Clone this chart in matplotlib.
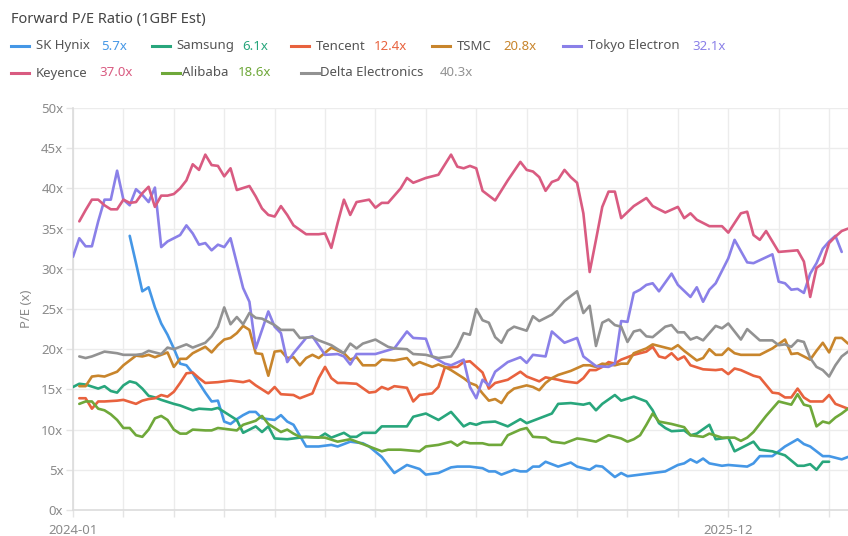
import matplotlib
matplotlib.use("Agg")
import matplotlib.pyplot as plt
import numpy as np

# ---------------- data (week index since 2024-01, forward P/E) ----------------
series_names = ["SK Hynix", "Samsung", "Tencent", "TSMC", "Tokyo Electron",
                "Keyence", "Alibaba", "Delta Electronics"]
legend_values = ["5.7x", "6.1x", "12.4x", "20.8x", "32.1x", "37.0x", "18.6x", "40.3x"]
colors = ["#4597e6", "#28a67c", "#e8623e", "#c8852c", "#8a80e8",
          "#d95b81", "#6fa83a", "#929292"]

sk_hynix_weeks = [9, 10, 11, 12, 13, 14, 15, 16, 17, 18, 19, 20, 21, 22, 23, 24, 25, 26, 27, 28, 29, 30,
                  32, 33, 34, 35, 37, 39, 41, 42, 44, 46, 47, 49, 51, 53, 55, 56, 58, 60, 61, 63, 65,
                  66, 67, 68, 70, 71, 72, 73, 74, 75, 77, 79, 80, 82, 83, 84, 86, 87, 88, 90, 94, 96,
                  97, 98, 99, 100, 101, 103, 104, 107, 108, 109, 111, 112, 113, 115, 116, 117, 119,
                  120, 121, 122, 123]
sk_hynix_pe = [34.1, 30.7, 27.2, 27.7, 25.2, 23.2, 21.8, 20.1, 18.2, 18.0, 17.0, 15.8, 14.6, 13.5, 13.6,
               11.0, 10.7, 11.3, 11.8, 12.2, 12.2, 11.4, 11.2, 11.8, 11.0, 10.6, 7.9, 7.9, 8.1, 7.9,
               8.5, 8.3, 7.9, 6.6, 4.6, 5.6, 5.1, 4.4, 4.6, 5.3, 5.4, 5.4, 5.2, 4.8, 4.8, 4.4, 5.0,
               4.8, 4.8, 5.4, 5.4, 6.0, 5.4, 5.9, 5.4, 5.0, 5.5, 5.4, 4.1, 4.6, 4.2, 4.4, 4.8, 5.6,
               5.8, 6.3, 5.9, 6.4, 5.8, 5.5, 5.6, 5.4, 5.8, 6.7, 6.7, 7.3, 7.9, 8.8, 8.2, 7.9, 6.7,
               6.7, 6.5, 6.3, 6.6]

samsung_weeks = [0, 1, 2, 4, 5, 6, 7, 8, 9, 10, 11, 12, 13, 14, 16, 17, 19, 20, 22, 23, 24, 26, 27, 28,
                 29, 30, 31, 32, 34, 37, 39, 40, 41, 43, 44, 45, 46, 48, 49, 51, 53, 54, 56, 58, 60,
                 62, 63, 64, 65, 67, 69, 71, 72, 74, 76, 77, 79, 81, 82, 83, 84, 86, 87, 89, 90, 91,
                 92, 93, 94, 95, 97, 98, 99, 101, 102, 104, 105, 108, 109, 111, 113, 115, 116, 117,
                 118, 119, 120]
samsung_pe = [15.3, 15.7, 15.6, 15.1, 15.4, 14.8, 14.6, 15.5, 16.0, 15.8, 15.1, 14.2, 14.0, 13.7, 13.2,
              13.0, 12.4, 12.6, 12.5, 12.7, 12.2, 11.2, 9.6, 10.0, 10.4, 9.7, 10.4, 8.9, 8.8, 9.1,
              9.0, 9.5, 9.0, 9.6, 9.1, 9.1, 9.6, 9.6, 10.4, 10.4, 10.4, 11.6, 12.0, 11.2, 12.2, 10.4,
              10.8, 10.6, 10.9, 11.0, 10.4, 11.3, 10.8, 11.4, 12.0, 13.2, 13.3, 13.1, 13.3, 12.4,
              13.2, 14.3, 13.6, 14.1, 13.8, 13.5, 12.4, 10.8, 10.2, 9.8, 9.9, 9.3, 9.5, 10.6, 8.8,
              9.0, 7.3, 8.5, 7.5, 7.3, 6.8, 5.5, 5.5, 5.7, 5.0, 6.0, 6.0]

tencent_weeks = [1, 2, 3, 4, 5, 7, 8, 10, 11, 12, 13, 14, 15, 16, 17, 18, 19, 20, 21, 23, 25, 27, 28, 29,
                 30, 31, 32, 33, 35, 36, 38, 39, 40, 41, 42, 43, 45, 47, 48, 49, 50, 51, 53, 54, 55,
                 57, 58, 59, 61, 62, 63, 64, 65, 66, 67, 69, 71, 72, 74, 75, 77, 78, 80, 81, 82, 83,
                 84, 85, 86, 87, 89, 90, 91, 92, 93, 94, 95, 96, 97, 98, 100, 102, 103, 104, 105, 106,
                 108, 109, 111, 112, 113, 114, 115, 116, 117, 119, 120, 121, 123]
tencent_pe = [13.9, 13.9, 12.6, 13.5, 13.5, 13.6, 13.7, 13.2, 13.6, 13.8, 13.9, 14.3, 14.1, 14.7, 15.8,
              17.0, 17.1, 16.4, 15.8, 15.9, 16.1, 15.9, 16.1, 15.5, 15.0, 14.5, 15.3, 14.4, 14.3,
              13.9, 14.5, 16.4, 17.8, 16.4, 15.8, 15.8, 15.7, 14.6, 14.7, 15.3, 15.0, 15.4, 15.2,
              13.5, 14.3, 14.5, 15.3, 17.7, 17.8, 18.4, 18.5, 17.8, 17.1, 15.1, 15.8, 16.2, 17.2,
              16.6, 16.0, 16.5, 16.2, 16.0, 15.8, 16.4, 17.4, 17.4, 17.8, 18.4, 18.2, 18.7, 19.3,
              19.5, 19.7, 20.3, 19.1, 18.9, 19.5, 18.7, 19.1, 18.0, 17.5, 17.4, 17.5, 16.9, 17.6,
              17.4, 16.7, 16.5, 14.6, 14.5, 14.0, 14.0, 15.1, 14.0, 13.5, 13.5, 14.3, 13.2, 12.6]

tsmc_weeks = [1, 2, 3, 4, 5, 7, 8, 10, 11, 12, 13, 14, 15, 16, 17, 18, 19, 20, 21, 22, 23, 24, 25, 26,
              27, 28, 29, 30, 31, 32, 33, 34, 35, 36, 37, 38, 39, 41, 43, 44, 45, 46, 48, 49, 51, 53,
              54, 55, 57, 58, 59, 60, 62, 63, 64, 65, 66, 67, 68, 69, 70, 72, 73, 74, 75, 76, 77, 79,
              81, 82, 83, 84, 86, 87, 88, 89, 90, 91, 92, 94, 95, 96, 97, 98, 99, 100, 101, 102, 103,
              104, 105, 106, 109, 111, 113, 114, 115, 117, 118, 119, 120, 121, 122, 123]
tsmc_pe = [15.4, 15.4, 16.6, 16.7, 16.6, 17.2, 18.0, 19.2, 19.1, 19.3, 19.0, 19.3, 19.6, 17.8, 18.8,
           18.8, 19.5, 19.9, 20.3, 19.6, 20.5, 21.2, 21.4, 22.0, 22.9, 22.4, 19.5, 19.4, 16.7, 19.7,
           19.8, 18.9, 19.0, 18.0, 18.9, 19.3, 18.9, 20.2, 19.5, 18.7, 19.0, 18.0, 18.0, 18.7, 18.6,
           18.9, 18.0, 18.4, 17.8, 18.1, 17.8, 17.4, 16.4, 15.8, 15.5, 14.5, 13.6, 13.8, 13.3, 14.5,
           15.1, 15.5, 15.3, 14.9, 15.8, 16.4, 16.8, 17.3, 18.0, 18.0, 17.8, 18.2, 18.0, 18.2, 18.2,
           19.5, 19.8, 20.1, 20.6, 20.2, 20.0, 20.5, 19.8, 19.2, 18.6, 18.9, 20.0, 19.3, 19.3, 20.1,
           19.5, 19.3, 19.3, 20.1, 21.2, 19.4, 19.5, 18.7, 19.8, 20.8, 19.6, 21.4, 21.4, 20.7]

tokyo_weeks = [0, 1, 2, 3, 4, 5, 6, 7, 8, 9, 10, 11, 12, 13, 14, 15, 17, 18, 19, 20, 21, 22, 23, 24, 25,
               27, 28, 29, 31, 32, 33, 34, 35, 37, 38, 40, 42, 43, 44, 45, 48, 51, 53, 54, 56, 57, 59,
               60, 62, 63, 64, 65, 66, 67, 69, 71, 72, 73, 75, 76, 78, 80, 81, 83, 85, 86, 87, 88, 89,
               90, 91, 92, 93, 95, 96, 98, 99, 100, 101, 102, 104, 105, 107, 108, 111, 112, 113, 114,
               115, 116, 117, 118, 119, 120, 121, 122]
tokyo_pe = [31.5, 33.8, 32.8, 32.8, 35.9, 38.6, 38.6, 42.2, 38.6, 37.9, 39.9, 39.2, 38.3, 40.1, 32.7,
            33.4, 34.2, 35.4, 34.4, 33.0, 33.2, 32.3, 33.0, 32.7, 33.8, 27.6, 25.9, 20.1, 24.7, 22.8,
            22.0, 18.4, 19.5, 21.4, 21.6, 19.3, 19.4, 19.1, 18.1, 19.4, 19.4, 20.1, 22.2, 21.4, 21.3,
            19.1, 18.2, 18.0, 18.7, 15.3, 13.9, 16.2, 15.5, 17.2, 18.4, 19.0, 18.3, 19.3, 19.1, 22.2,
            20.8, 21.4, 19.1, 17.9, 17.8, 18.2, 23.5, 23.4, 27.0, 27.4, 28.0, 28.2, 27.2, 29.4, 28.0,
            26.5, 27.7, 25.9, 27.4, 28.2, 31.3, 33.6, 30.8, 30.7, 31.8, 28.4, 28.2, 27.4, 27.5, 27.0,
            29.4, 30.7, 32.5, 33.4, 34.1, 32.1]

keyence_weeks = [1, 2, 3, 4, 5, 6, 7, 8, 9, 10, 11, 12, 13, 14, 15, 16, 17, 18, 19, 20, 21, 22, 23, 24,
                 25, 26, 28, 29, 30, 31, 32, 33, 34, 35, 37, 39, 40, 41, 42, 43, 44, 45, 47, 48, 49,
                 50, 52, 53, 54, 56, 58, 60, 61, 62, 63, 64, 65, 67, 69, 71, 72, 73, 74, 75, 76, 77,
                 78, 79, 80, 81, 82, 83, 84, 85, 86, 87, 89, 91, 92, 94, 96, 97, 98, 99, 101, 103, 104,
                 106, 107, 108, 109, 110, 112, 115, 116, 117, 118, 119, 120, 121, 122, 123]
keyence_pe = [35.9, 37.3, 38.6, 38.6, 37.9, 37.4, 37.4, 38.6, 38.2, 38.3, 39.4, 40.2, 37.7, 39.1, 39.1,
              39.3, 40.0, 41.0, 43.0, 42.3, 44.2, 42.9, 42.8, 41.5, 42.5, 39.8, 40.3, 39.0, 37.5, 36.7,
              36.5, 37.8, 36.7, 35.4, 34.3, 34.3, 34.4, 32.6, 35.7, 38.6, 36.7, 38.3, 38.6, 37.6, 38.2,
              38.2, 40.0, 41.3, 40.7, 41.3, 41.7, 44.2, 42.7, 42.5, 42.8, 42.5, 39.7, 38.5, 41.0, 43.3,
              42.3, 42.1, 41.4, 39.7, 40.8, 41.1, 42.3, 41.4, 40.7, 36.9, 29.6, 33.6, 37.7, 39.6, 39.6,
              36.3, 37.8, 38.8, 37.8, 37.0, 37.7, 36.3, 36.9, 36.1, 35.3, 35.3, 34.5, 36.9, 37.1, 34.2,
              33.6, 34.7, 32.1, 32.3, 30.9, 26.5, 30.1, 30.7, 33.2, 34.0, 34.7, 35.0]

alibaba_weeks = [1, 2, 3, 4, 5, 6, 7, 8, 9, 10, 11, 12, 13, 14, 15, 16, 17, 18, 19, 21, 22, 23, 25, 26,
                 27, 29, 30, 31, 33, 34, 35, 36, 40, 42, 44, 45, 47, 49, 50, 52, 55, 56, 58, 60, 61, 62,
                 63, 65, 66, 68, 69, 71, 72, 73, 75, 76, 78, 80, 81, 83, 85, 87, 88, 89, 90, 91, 92, 93,
                 95, 97, 98, 100, 101, 103, 105, 106, 107, 108, 110, 112, 114, 115, 116, 117, 118, 119,
                 120, 121, 122, 123]
alibaba_pe = [13.2, 13.5, 13.5, 12.6, 12.4, 11.9, 11.2, 10.2, 10.2, 9.3, 9.1, 10.0, 11.4, 11.7, 11.2,
              10.0, 9.5, 9.5, 10.0, 9.9, 9.9, 10.2, 10.0, 9.9, 10.6, 11.1, 11.7, 10.7, 9.7, 10.0, 9.5,
              9.1, 9.0, 8.5, 8.8, 8.5, 7.9, 7.3, 7.5, 7.5, 7.3, 7.9, 8.1, 8.5, 8.0, 8.5, 8.3, 8.3, 8.1,
              8.1, 9.3, 10.0, 10.2, 9.1, 9.0, 8.5, 8.3, 8.9, 8.8, 8.5, 9.3, 8.9, 8.5, 8.8, 9.3, 10.6,
              12.0, 11.0, 10.7, 10.3, 9.3, 9.1, 9.5, 9.0, 9.0, 8.6, 9.0, 9.7, 11.7, 13.5, 13.1, 14.4,
              13.1, 12.9, 10.4, 11.0, 10.8, 11.5, 12.0, 12.6]

delta_weeks = [1, 2, 3, 5, 7, 8, 10, 11, 12, 14, 15, 16, 18, 19, 21, 22, 23, 24, 25, 26, 27, 28, 29, 30,
               32, 33, 35, 36, 38, 39, 41, 43, 44, 45, 46, 48, 50, 51, 53, 54, 56, 58, 60, 61, 62, 63,
               64, 65, 66, 67, 68, 69, 70, 72, 73, 74, 76, 77, 78, 80, 81, 82, 83, 84, 85, 86, 87, 88,
               89, 90, 91, 92, 94, 95, 96, 97, 98, 99, 100, 102, 103, 104, 106, 107, 109, 111, 112,
               113, 114, 115, 116, 117, 118, 119, 120, 121, 122, 123]
delta_pe = [19.1, 18.9, 19.1, 19.7, 19.5, 19.3, 19.3, 19.4, 19.8, 19.4, 20.2, 20.0, 20.6, 20.2, 20.8,
            21.6, 22.8, 25.2, 23.1, 24.0, 23.1, 24.5, 23.9, 23.8, 23.0, 22.4, 22.4, 21.4, 21.5, 21.1,
            20.5, 19.5, 20.7, 20.1, 20.7, 21.2, 20.3, 20.1, 20.0, 19.4, 19.3, 18.9, 19.1, 20.3, 22.0,
            21.8, 25.0, 23.6, 23.3, 21.5, 20.8, 22.3, 22.8, 22.3, 24.1, 23.5, 24.3, 25.1, 26.0, 27.2,
            24.5, 25.4, 20.4, 23.3, 23.7, 23.0, 22.8, 20.9, 22.2, 22.4, 21.6, 21.5, 22.8, 23.0, 22.1,
            22.1, 21.2, 21.5, 21.1, 22.9, 22.6, 23.2, 21.2, 22.5, 21.1, 21.1, 20.5, 20.6, 20.3, 21.1,
            20.9, 18.9, 17.8, 17.4, 16.6, 18.0, 19.1, 19.7]

all_weeks = [sk_hynix_weeks, samsung_weeks, tencent_weeks, tsmc_weeks, tokyo_weeks,
             keyence_weeks, alibaba_weeks, delta_weeks]
all_pe = [sk_hynix_pe, samsung_pe, tencent_pe, tsmc_pe, tokyo_pe,
          keyence_pe, alibaba_pe, delta_pe]

y_ticks = [0, 5, 10, 15, 20, 25, 30, 35, 40, 45, 50]
x_grid_weeks = list(range(0, 121, 8))
x_label_weeks = [0, 104]
x_labels = ["2024-01", "2025-12"]

# ---------------- figure ----------------
W, H = 848, 536
fig = plt.figure(figsize=(W / 100, H / 100), dpi=100)
plt.rcParams["font.family"] = ["Noto Sans", "DejaVu Sans"]

ax = fig.add_axes([73 / W, 1 - 510 / H, (848 - 73) / W, (510 - 108) / H])
for wk, pe, c in zip(all_weeks, all_pe, colors):
    ax.plot(wk, pe, color=c, lw=1.9, solid_joinstyle="round", solid_capstyle="round", zorder=3)

ax.set_xlim(0, 123)
ax.set_ylim(0, 50)
ax.set_yticks(y_ticks)
ax.set_yticklabels([f"{v}x" for v in y_ticks])
ax.set_xticks(x_grid_weeks)
ax.set_xticklabels([x_labels[x_label_weeks.index(w)] if w in x_label_weeks else ""
                    for w in x_grid_weeks])
ax.grid(True, color="#ececec", lw=1, zorder=0)
ax.tick_params(axis="both", which="major", color="#e4e4e4", length=5, width=1,
               labelcolor="#8a8a8a", labelsize=9.5, pad=2)
ax.tick_params(axis="x", pad=5)
for s in ["top", "right"]:
    ax.spines[s].set_visible(False)
for s in ["left", "bottom"]:
    ax.spines[s].set_color("#dcdcdc")
    ax.spines[s].set_linewidth(1.2)
ax.set_ylabel("P/E (x)", color="#8a8a8a", fontsize=9.5, labelpad=6)
ax.set_axisbelow(True)

# ---------------- title & legend ----------------
def px(x, y):
    return x / W, 1 - y / H

fig.text(*px(11, 20), "Forward P/E Ratio (1GBF Est)", fontsize=10.5, color="#444444",
         ha="left", va="center")

legend_layout = [
    (11, 46, 36, 101), (152, 46, 176, 242), (291, 46, 316, 374), (432, 46, 457, 503),
    (563, 46, 588, 692), (11, 73, 36, 99), (162, 73, 182, 238), (301, 73, 320, 440),
]
for (lx, ly, tx, vx), name, val, c in zip(legend_layout, series_names, legend_values, colors):
    fig.add_artist(plt.Line2D([lx / W, (lx + 18) / W], [1 - ly / H, 1 - ly / H],
                              color=c, lw=2.2, transform=fig.transFigure))
    fig.text(*px(tx, ly), name, fontsize=9.5, color="#555555", ha="left", va="center")
    fig.text(*px(vx, ly), val, fontsize=9.5, color=c, ha="left", va="center")

fig.savefig("out.png", dpi=100, facecolor="white")
